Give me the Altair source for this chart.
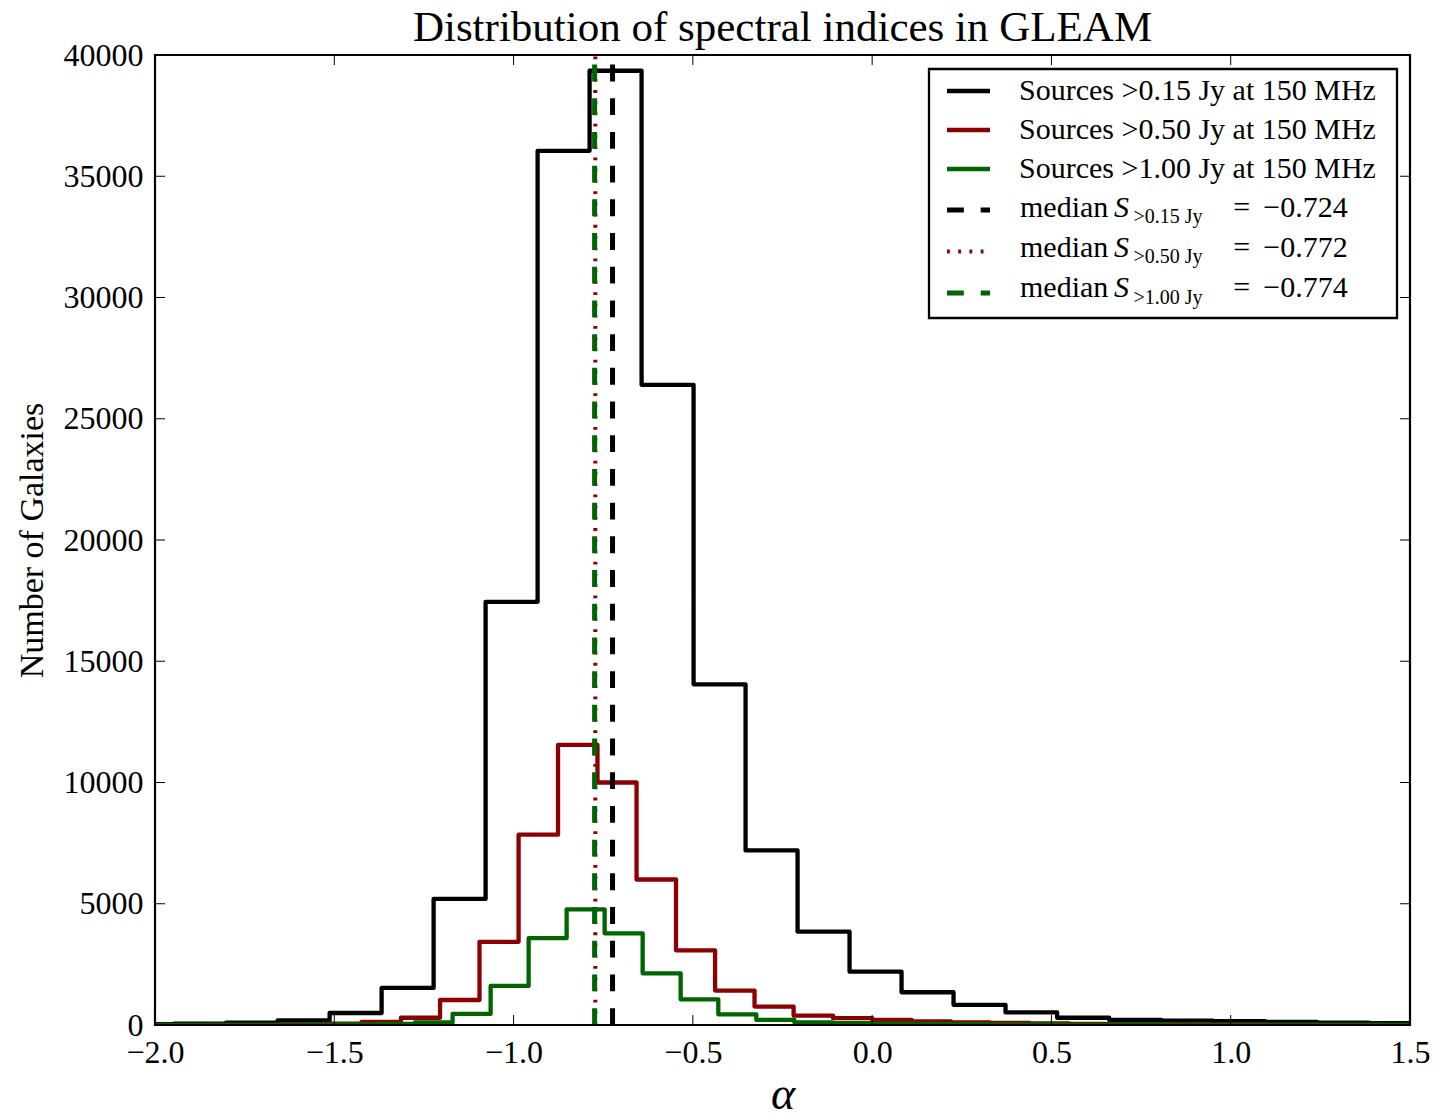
import altair as alt
import pandas as pd

# ---------------- data ----------------
black_edges = [-2.092, -1.947, -1.802, -1.658, -1.513, -1.368, -1.223, -1.078, -0.933, -0.788,
               -0.643, -0.498, -0.353, -0.208, -0.063, 0.082, 0.227, 0.372, 0.516, 0.661,
               0.806, 0.951, 1.096, 1.241, 1.386, 1.531]
black_counts = [30, 60, 100, 185, 495, 1530, 5200, 17450, 36050, 39350,
                26400, 14050, 7200, 3850, 2200, 1350, 830, 520, 300, 206,
                178, 160, 124, 95, 80]

red_edges = [-2.081, -1.972, -1.862, -1.752, -1.643, -1.533, -1.424, -1.314, -1.205, -1.095,
             -0.986, -0.876, -0.766, -0.657, -0.547, -0.438, -0.328, -0.219, -0.109, 0.000,
             0.110, 0.220, 0.329, 0.439, 0.549, 0.658, 0.768, 0.877, 0.987, 1.097,
             1.206, 1.316, 1.425, 1.535]
red_counts = [5, 8, 10, 15, 25, 55, 130, 300, 1030, 3430,
              7850, 11550, 10000, 6000, 3080, 1420, 760, 390, 280, 210,
              150, 110, 85, 65, 50, 40, 32, 25, 20, 15,
              12, 10, 8]

green_edges = [-2.016, -1.911, -1.805, -1.699, -1.593, -1.487, -1.381, -1.275, -1.170, -1.064,
               -0.958, -0.852, -0.746, -0.640, -0.534, -0.429, -0.323, -0.217, -0.111, -0.005,
               0.101, 0.207, 0.313, 0.418, 0.524, 0.630, 0.736, 0.842, 0.948, 1.054,
               1.159, 1.265, 1.371, 1.477, 1.583]
green_counts = [3, 4, 5, 8, 12, 20, 45, 110, 455, 1610,
                3580, 4770, 3780, 2130, 1060, 440, 210, 110, 75, 55,
                42, 32, 25, 20, 16, 12, 10, 8, 7, 6,
                5, 4, 3, 3]

median_black = -0.724
median_red = -0.772
median_green = -0.774

x_ticks = [-2.0, -1.5, -1.0, -0.5, 0.0, 0.5, 1.0, 1.5]
y_ticks = [0, 5000, 10000, 15000, 20000, 25000, 30000, 35000, 40000]

title_text = "Distribution of spectral indices in GLEAM"
legend_sources = ["Sources >0.15 Jy at 150 MHz", "Sources >0.50 Jy at 150 MHz", "Sources >1.00 Jy at 150 MHz"]
legend_sub = [">0.15 Jy", ">0.50 Jy", ">1.00 Jy"]
legend_vals = ["\u22120.724", "\u22120.772", "\u22120.774"]

# ---------------- helpers ----------------
W, H = 1255, 970
FONT = "Liberation Serif"
BLACK, RED, GREEN = "#000000", "#8b0000", "#006400"


def outline(edges, counts):
    rows = [{"alpha": edges[0], "n": 0, "o": 0}]
    k = 1
    for i, c in enumerate(counts):
        rows.append({"alpha": edges[i], "n": c, "o": k}); k += 1
        rows.append({"alpha": edges[i + 1], "n": c, "o": k}); k += 1
    rows.append({"alpha": edges[-1], "n": 0, "o": k})
    return pd.DataFrame(rows)


xscale = alt.Scale(domain=[-2.0, 1.5], nice=False, zero=False)
yscale = alt.Scale(domain=[0, 40000], nice=False, zero=False)

x_axis = alt.Axis(values=x_ticks, format=".1f", tickSize=0, domain=False, grid=False,
                  labelFont=FONT, labelFontSize=32, labelColor="black", labelPadding=12,
                  labelFlush=False, labelOverlap=False,
                  title="α", titleFont=FONT, titleFontStyle="italic", titleFontWeight="normal",
                  titleFontSize=46, titleColor="black", titleY=93, titleBaseline="bottom")
y_axis = alt.Axis(values=y_ticks, format="d", tickSize=0, domain=False, grid=False,
                  labelFont=FONT, labelFontSize=32, labelColor="black", labelPadding=12,
                  labelFlush=False, labelOverlap=False,
                  title="Number of Galaxies", titleFont=FONT, titleFontWeight="normal",
                  titleFontSize=34, titleColor="black", titleX=-113, titleBaseline="alphabetic")


def X(field):
    return alt.X(field, scale=xscale, axis=x_axis)


def Y(field):
    return alt.Y(field, scale=yscale, axis=y_axis)


def hist(edges, counts, color):
    return alt.Chart(outline(edges, counts)).mark_line(
        color=color, strokeWidth=4.3, clip=True, strokeJoin="round"
    ).encode(x=X("alpha:Q"), y=Y("n:Q"), order="o:Q")


def median_rule(val, color, width, dash):
    return alt.Chart(pd.DataFrame({"alpha": [val]})).mark_rule(
        color=color, strokeWidth=width, strokeDash=dash
    ).encode(x=X("alpha:Q"), y=alt.value(H), y2=alt.value(0))


dummy = pd.DataFrame({"d": [0]})


def txt(s, x, y, size=30, style="normal", align="left"):
    return alt.Chart(dummy).mark_text(
        text=s, align=align, baseline="alphabetic", font=FONT, fontSize=size,
        fontStyle=style, color="black"
    ).encode(x=alt.value(x), y=alt.value(y))


def handle(y, color, width, dash=None):
    kw = dict(color=color, strokeWidth=width)
    if dash:
        kw["strokeDash"] = dash
    return alt.Chart(dummy).mark_rule(**kw).encode(
        x=alt.value(792), x2=alt.value(835), y=alt.value(y))


# ---------------- layers ----------------
h_black = hist(black_edges, black_counts, BLACK)
h_red = hist(red_edges, red_counts, RED)
h_green = hist(green_edges, green_counts, GREEN)

DASH = [16.85, 16.85]
DOT = [2.8, 8.43]
m_black = median_rule(median_black, BLACK, 5, DASH)
m_red = median_rule(median_red, RED, 4, DOT)
m_green = median_rule(median_green, GREEN, 5, DASH)

xt = pd.DataFrame({"alpha": x_ticks})
yt = pd.DataFrame({"n": y_ticks})
tick_xb = alt.Chart(xt).mark_rule(color="black", strokeWidth=1).encode(
    x=X("alpha:Q"), y=alt.value(H), y2=alt.value(H - 10))
tick_xt = alt.Chart(xt).mark_rule(color="black", strokeWidth=1).encode(
    x=X("alpha:Q"), y=alt.value(0), y2=alt.value(10))
tick_yl = alt.Chart(yt).mark_rule(color="black", strokeWidth=1).encode(
    y=Y("n:Q"), x=alt.value(0), x2=alt.value(10))
tick_yr = alt.Chart(yt).mark_rule(color="black", strokeWidth=1).encode(
    y=Y("n:Q"), x=alt.value(W), x2=alt.value(W - 10))

frame = alt.Chart(dummy).mark_rect(fill="white", fillOpacity=0, stroke="black", strokeWidth=2.2).encode(
    x=alt.value(0), x2=alt.value(W), y=alt.value(0), y2=alt.value(H))

title_mark = txt(title_text, W / 2, -14.5, size=43, align="center")

legend_box = alt.Chart(dummy).mark_rect(fill="white", stroke="black", strokeWidth=2.3).encode(
    x=alt.value(774), x2=alt.value(1242), y=alt.value(14), y2=alt.value(263))

handle_rows = [36, 75, 114, 155, 196.5, 238]
text_rows = [45, 84, 123.3, 161.7, 201.7, 242.3]
legend_layers = [legend_box,
                 handle(handle_rows[0], BLACK, 4.3),
                 handle(handle_rows[1], RED, 4.3),
                 handle(handle_rows[2], GREEN, 4.3),
                 handle(handle_rows[3], BLACK, 5, DASH),
                 handle(handle_rows[4], RED, 4, DOT),
                 handle(handle_rows[5], GREEN, 5, DASH)]
for i in range(3):
    legend_layers.append(txt(legend_sources[i], 864, text_rows[i]))
for i in range(3):
    y = text_rows[3 + i]
    legend_layers.append(txt("median", 865, y))
    legend_layers.append(txt("S", 959, y, style="italic"))
    legend_layers.append(txt(legend_sub[i], 978.5, y + 6.7, size=20))
    legend_layers.append(txt("=", 1078.3, y))
    legend_layers.append(txt(legend_vals[i], 1108.3, y))

chart = alt.layer(
    h_black, h_red, h_green, m_black, m_red, m_green,
    tick_xb, tick_xt, tick_yl, tick_yr, frame, title_mark,
    *legend_layers
).properties(
    width=W, height=H,
    background="white",
    padding={"left": 155, "top": 55, "right": 24, "bottom": 94},
    autosize=alt.AutoSizeParams(type="none"),
).configure_view(
    stroke=None
)

chart.save("out.html", embed_options={"renderer": "svg", "actions": False})
